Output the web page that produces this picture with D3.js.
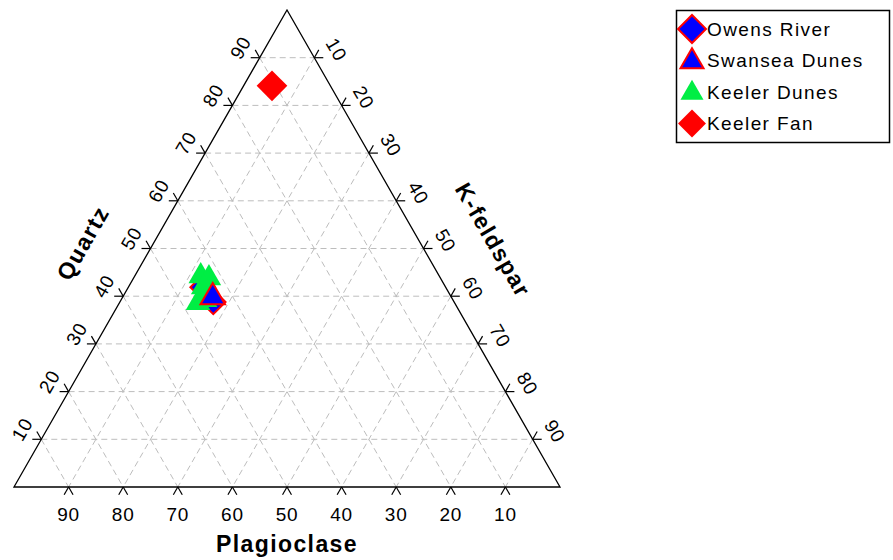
<!DOCTYPE html>
<html>
<head>
<meta charset="utf-8">
<script src="https://cdn.jsdelivr.net/npm/d3@7"></script>
<style>
  body { margin: 0; background: #fff; }
  text { font-family: Arial, "Liberation Sans", sans-serif; fill: #000; }
</style>
</head>
<body>
<script>
var width = 893;
var height = 560;

var seriesNames = ["Owens River", "Swansea Dunes", "Keeler Dunes", "Keeler Fan"];
var tickValues = [10, 20, 30, 40, 50, 60, 70, 80, 90];

// points as [plagioclase, quartz, k-feldspar] in %
var owensRiver = [[44.5, 41.9, 13.6], [44.1, 38.8, 17.1]];
var swanseaDunes = [[43.7, 39.8, 16.5]];
var keelerDunes = [[43.7, 44.2, 12.1], [42.4, 43.8, 13.8], [44.4, 41.9, 13.7], [47.0, 38.6, 14.4], [45.4, 39.2, 15.4]];
var keelerFan = [[10.7, 84.1, 5.2]];

var svg = d3.select("body").append("svg")
    .attr("width", width)
    .attr("height", height);

// x runs on (kfs + qtz/2), y on quartz
var sx = d3.scaleLinear().domain([0, 100]).range([14, 560]);
var sy = d3.scaleLinear().domain([0, 100]).range([487, 10]);

function pt(p, q, k) {
    var s = p + q + k;
    q = q * 100 / s;
    k = k * 100 / s;
    return [sx(k + q / 2), sy(q)];
}

var BL = pt(100, 0, 0), TOP = pt(0, 100, 0), BR = pt(0, 0, 100);

function unit(a, b) {
    var dx = b[0] - a[0], dy = b[1] - a[1], l = Math.sqrt(dx * dx + dy * dy);
    return [dx / l, dy / l];
}

// grid
var grid = svg.append("g")
    .attr("stroke", "#bdbdbd")
    .attr("stroke-width", 1)
    .attr("stroke-dasharray", "6,4")
    .attr("fill", "none");

tickValues.forEach(function(v) {
    var segs = [
        [pt(100 - v, v, 0), pt(0, v, 100 - v)],
        [pt(v, 100 - v, 0), pt(v, 0, 100 - v)],
        [pt(0, 100 - v, v), pt(100 - v, 0, v)]
    ];
    segs.forEach(function(s) {
        grid.append("line")
            .attr("x1", s[0][0]).attr("y1", s[0][1])
            .attr("x2", s[1][0]).attr("y2", s[1][1]);
    });
});

// frame
svg.append("path")
    .attr("d", d3.line()([BL, TOP, BR, BL]) + "Z")
    .attr("fill", "none")
    .attr("stroke", "#000")
    .attr("stroke-width", 1.3);

// ticks
var tlen = 9;
var ticks = svg.append("g").attr("stroke", "#000").attr("stroke-width", 1.2);
var dDownLeft = unit(TOP, BL), dDownRight = unit(TOP, BR);
var dUpLeft = unit(BR, TOP), dUpRight = unit(BL, TOP);

function tick(p, d) {
    ticks.append("line")
        .attr("x1", p[0]).attr("y1", p[1])
        .attr("x2", p[0] + d[0] * tlen).attr("y2", p[1] + d[1] * tlen);
}

var labels = svg.append("g")
    .style("font-size", "19px")
    .style("letter-spacing", "0.8px")
    .attr("text-anchor", "middle")
    .attr("dominant-baseline", "central");

tickValues.forEach(function(v) {
    // plagioclase, bottom
    var b = pt(v, 0, 100 - v);
    tick(b, dDownLeft);
    tick(b, dDownRight);
    labels.append("text").attr("x", b[0]).attr("y", 514).text(v);

    // quartz, left
    var l = pt(100 - v, v, 0);
    tick(l, [-1, 0]);
    tick(l, dUpLeft);
    labels.append("text")
        .attr("transform", "translate(" + (l[0] - 19) + "," + (l[1] - 10) + ") rotate(-60)")
        .text(v);

    // k-feldspar, right
    var r = pt(0, 100 - v, v);
    tick(r, [1, 0]);
    tick(r, dUpRight);
    labels.append("text")
        .attr("transform", "translate(" + (r[0] + 22) + "," + (r[1] - 8) + ") rotate(60)")
        .text(v);
});

// axis titles
var titles = svg.append("g")
    .style("font-size", "23px")
    .style("font-weight", "bold")
    .style("letter-spacing", "1.4px")
    .attr("text-anchor", "middle")
    .attr("dominant-baseline", "central");

titles.append("text").attr("x", 287).attr("y", 544).text("Plagioclase");
titles.append("text").attr("transform", "translate(83,243) rotate(-60)").text("Quartz");
titles.append("text").attr("transform", "translate(493,240) rotate(60)").text("K-feldspar");

// markers
var diamond = function(size) { return d3.symbol(d3.symbolSquare, size)(); };
var triangle = function(size) { return d3.symbol(d3.symbolTriangle, size)(); };

var styles = [
    { data: owensRiver, path: diamond(300), rot: 45, fill: "#0000ff", stroke: "#ff0000" },
    { data: keelerDunes, path: triangle(260), rot: 0, fill: "#00ee44", stroke: "none" },
    { data: swanseaDunes, path: triangle(260), rot: 0, fill: "#0000ff", stroke: "#ff0000" },
    { data: keelerFan, path: diamond(470), rot: 45, fill: "#ff0000", stroke: "none" }
];

styles.forEach(function(s) {
    svg.append("g").selectAll("path")
        .data(s.data)
        .enter().append("path")
        .attr("d", s.path)
        .attr("transform", function(d) {
            var p = pt(d[0], d[1], d[2]);
            return "translate(" + p[0] + "," + p[1] + ") rotate(" + s.rot + ")";
        })
        .attr("fill", s.fill)
        .attr("stroke", s.stroke)
        .attr("stroke-width", 2);
});

// legend
var legend = svg.append("g");
legend.append("rect")
    .attr("x", 676.5).attr("y", 10.5)
    .attr("width", 213).attr("height", 132)
    .attr("fill", "#fff")
    .attr("stroke", "#000")
    .attr("stroke-width", 1.5);

var legendSym = [
    { path: diamond(390), rot: 45, fill: "#0000ff", stroke: "#ff0000" },
    { path: triangle(230), rot: 0, fill: "#0000ff", stroke: "#ff0000" },
    { path: triangle(230), rot: 0, fill: "#00ee44", stroke: "none" },
    { path: diamond(390), rot: 45, fill: "#ff0000", stroke: "none" }
];

seriesNames.forEach(function(name, i) {
    var y = 29 + i * 31.5;
    var s = legendSym[i];
    legend.append("path")
        .attr("d", s.path)
        .attr("transform", "translate(692," + (i == 1 || i == 2 ? y + 1 : y) + ") rotate(" + s.rot + ")")
        .attr("fill", s.fill)
        .attr("stroke", s.stroke)
        .attr("stroke-width", 2);
    legend.append("text")
        .attr("x", 707).attr("y", y)
        .attr("dominant-baseline", "central")
        .style("font-size", "19px")
        .style("letter-spacing", "1.4px")
        .text(name);
});
</script>
</body>
</html>
